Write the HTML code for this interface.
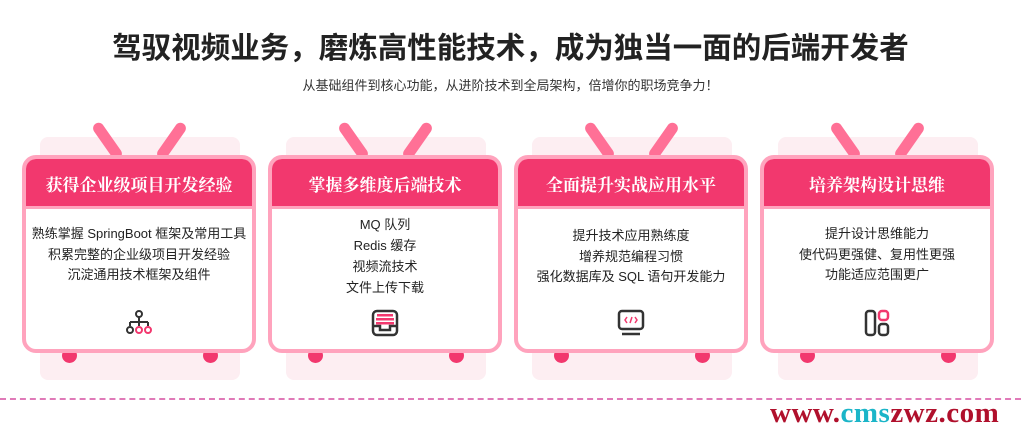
<!DOCTYPE html>
<html><head><meta charset="utf-8"><style>
*{margin:0;padding:0;box-sizing:border-box}
body{width:1021px;height:429px;background:#fff;position:relative;overflow:hidden;font-family:"Liberation Sans","Noto Sans CJK SC",sans-serif;color:#222}
.t{position:absolute;left:0;width:1021px;text-align:center}
.bg{position:absolute;background:#fdeef2;border-radius:8px;width:200px;height:243px;top:137px}
.ant{position:absolute;width:11px;height:42px;background:#ff7096;border-radius:6px;top:120px}
.foot{position:absolute;width:15px;height:15px;border-radius:50%;background:#f2386e;top:348px}
.card{position:absolute;top:155px;width:234px;height:198px;border:4px solid #ffa3bd;border-radius:14px;background:#fff;overflow:hidden}
.hd{height:50px;background:#f2386e;color:#fff;font-weight:bold;font-size:17px;text-align:center;line-height:50px;border-bottom:3px solid #ffa3bd;font-family:"Noto Serif CJK SC","Noto Sans CJK SC",serif}
.bd{text-align:center;font-size:13px;line-height:20.5px;color:#222}
.ic{position:absolute;left:50%;transform:translateX(-50%);top:150px}
</style></head><body>
<div class="t" style="top:25px;font-size:29.5px;font-weight:bold;color:#222">驾驭视频业务，磨炼高性能技术，成为独当一面的后端开发者</div>
<div class="t" style="top:75px;font-size:13px;color:#333">从基础组件到核心功能，从进阶技术到全局架构，倍增你的职场竞争力！</div>

<!-- card 1 -->
<div class="bg" style="left:40px"></div>
<div class="ant" style="left:102px;transform:rotate(-35deg)"></div>
<div class="ant" style="left:166px;transform:rotate(35deg)"></div>
<div class="foot" style="left:62px"></div><div class="foot" style="left:203px"></div>
<div class="card" style="left:22px"><div class="hd">获得企业级项目开发经验</div>
<div class="bd" style="padding-top:15px">熟练掌握 SpringBoot 框架及常用工具<br>积累完整的企业级项目开发经验<br>沉淀通用技术框架及组件</div>
<svg class="ic" width="30" height="28" viewBox="0 0 30 28"><circle cx="15" cy="5" r="3" fill="none" stroke="#333" stroke-width="2"/><path d="M15 8v5M6 13h18M6 13v4M15 13v4M24 13v4" stroke="#333" stroke-width="2" fill="none"/><circle cx="6" cy="21" r="3" fill="none" stroke="#333" stroke-width="2"/><circle cx="15" cy="21" r="3" fill="none" stroke="#f2386e" stroke-width="2"/><circle cx="24" cy="21" r="3" fill="none" stroke="#f2386e" stroke-width="2"/></svg>
</div>

<!-- card 2 -->
<div class="bg" style="left:286px"></div>
<div class="ant" style="left:348px;transform:rotate(-35deg)"></div>
<div class="ant" style="left:412px;transform:rotate(35deg)"></div>
<div class="foot" style="left:308px"></div><div class="foot" style="left:449px"></div>
<div class="card" style="left:268px"><div class="hd">掌握多维度后端技术</div>
<div class="bd" style="padding-top:5px;line-height:21px">MQ 队列<br>Redis 缓存<br>视频流技术<br>文件上传下载</div>
<svg class="ic" width="30" height="28" viewBox="0 0 30 28"><rect x="3" y="2" width="24" height="24" rx="4" fill="none" stroke="#333" stroke-width="2.5"/><rect x="7" y="5" width="16" height="2.5" fill="#f2386e"/><rect x="6" y="9" width="18" height="2.5" fill="#f2386e"/><rect x="6" y="13" width="18" height="2.5" fill="#f2386e"/><path d="M3 17h7v4h10v-4h7" stroke="#333" stroke-width="2.5" fill="none"/></svg>
</div>

<!-- card 3 -->
<div class="bg" style="left:532px"></div>
<div class="ant" style="left:594px;transform:rotate(-35deg)"></div>
<div class="ant" style="left:658px;transform:rotate(35deg)"></div>
<div class="foot" style="left:554px"></div><div class="foot" style="left:695px"></div>
<div class="card" style="left:514px"><div class="hd">全面提升实战应用水平</div>
<div class="bd" style="padding-top:17px">提升技术应用熟练度<br>增养规范编程习惯<br>强化数据库及 SQL 语句开发能力</div>
<svg class="ic" width="30" height="28" viewBox="0 0 30 28"><rect x="3" y="2" width="24" height="18" rx="3" fill="none" stroke="#333" stroke-width="2.5"/><path d="M6 25h18" stroke="#333" stroke-width="2.5"/><path d="M11 8l-2 3 2 3M19 8l2 3-2 3M16 8l-2 6" stroke="#f2386e" stroke-width="1.5" fill="none"/></svg>
</div>

<!-- card 4 -->
<div class="bg" style="left:778px"></div>
<div class="ant" style="left:840px;transform:rotate(-35deg)"></div>
<div class="ant" style="left:904px;transform:rotate(35deg)"></div>
<div class="foot" style="left:800px"></div><div class="foot" style="left:941px"></div>
<div class="card" style="left:760px"><div class="hd">培养架构设计思维</div>
<div class="bd" style="padding-top:15px">提升设计思维能力<br>使代码更强健、复用性更强<br>功能适应范围更广</div>
<svg class="ic" width="30" height="28" viewBox="0 0 30 28"><rect x="4" y="2" width="9" height="24" rx="3" fill="none" stroke="#333" stroke-width="2.5"/><rect x="17" y="2" width="9" height="9" rx="3" fill="none" stroke="#f2386e" stroke-width="2.5"/><rect x="17" y="15" width="9" height="11" rx="3" fill="none" stroke="#333" stroke-width="2.5"/></svg>
</div>

<div style="position:absolute;left:0;top:398px;width:1021px;border-top:2px dashed #e07ab8"></div>
<div style="position:absolute;left:770px;top:397px;font-family:'Liberation Serif',serif;font-weight:bold;font-size:29px;color:#b0102c;letter-spacing:0.5px">www.<span style="color:#1bb5c8">cms</span>zwz.com</div>
</body></html>
